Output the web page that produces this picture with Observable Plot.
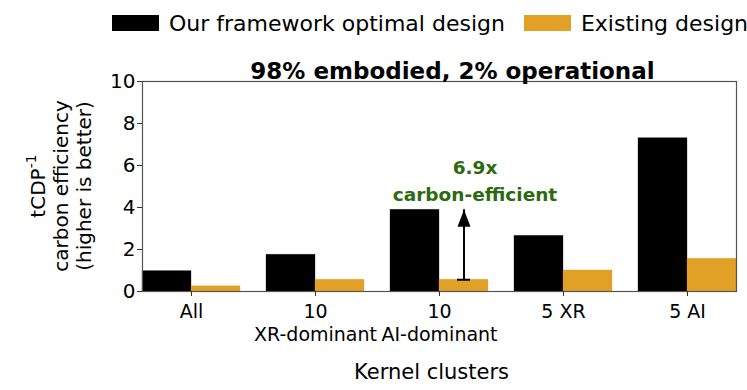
<!DOCTYPE html>
<html>
<head>
<meta charset="utf-8">
<script src="https://cdn.jsdelivr.net/npm/d3@7"></script>
<script src="https://cdn.jsdelivr.net/npm/@observablehq/plot@0.6"></script>
<style>
  html, body { margin: 0; padding: 0; background: #fff; }
  body { width: 747px; height: 390px; position: relative; overflow: hidden; font-family: "DejaVu Sans", sans-serif; }
  #legend { position: absolute; top: 0; left: 112px; height: 46px; display: flex; align-items: center; font-size: 22px; color: #000; white-space: nowrap; }
  #legend .item { display: flex; align-items: center; margin-right: 19px; }
  #legend .sw { width: 47px; height: 16px; margin-right: 10px; }
  #chart { position: absolute; top: 42px; left: 0; }
</style>
</head>
<body>
<div id="legend"></div>
<div id="chart"></div>
<script>
// ---- data ----
const categories = ["All", "10 XR", "10 AI", "5 XR", "5 AI"];
const tickLabels = ["All", "10\nXR-dominant", "10\nAI-dominant", "5 XR", "5 AI"];
const seriesNames = ["Our framework optimal design", "Existing design"];
const seriesColors = ["#000000", "#E1A026"];
const oursValues = [0.97, 1.75, 3.89, 2.65, 7.30];
const existingValues = [0.25, 0.56, 0.56, 1.00, 1.56];
const yTicks = [0, 2, 4, 6, 8, 10];
const titleText = "98% embodied, 2% operational";
const xLabelText = "Kernel clusters";
const annotationText = "6.9x\ncarbon-efficient";
const annotationCategory = "10 AI";
const annotationColor = "#2B6A0E";

const data = categories.flatMap((c, i) => [
  {cat: c, series: seriesNames[0], value: oursValues[i]},
  {cat: c, series: seriesNames[1], value: existingValues[i]}
]);
const ai = categories.indexOf(annotationCategory);
const arrowData = [{cat: annotationCategory, series: seriesNames[1], lo: existingValues[ai], hi: oursValues[ai]}];
const labelOf = new Map(categories.map((c, i) => [c, tickLabels[i]]));

// ---- legend ----
const legend = document.getElementById("legend");
seriesNames.forEach((s, i) => {
  const it = document.createElement("div");
  it.className = "item";
  const sw = document.createElement("div");
  sw.className = "sw";
  sw.style.background = seriesColors[i];
  const tx = document.createElement("span");
  tx.textContent = s;
  it.appendChild(sw); it.appendChild(tx);
  legend.appendChild(it);
});

// ---- chart ----
const chart = Plot.plot({
  width: 747,
  height: 348,
  marginTop: 39,
  marginBottom: 99,
  marginLeft: 142,
  marginRight: 11,
  style: {fontFamily: "DejaVu Sans", fontSize: "20px", color: "#000", background: "transparent"},
  fx: {domain: categories, paddingInner: 0.21, paddingOuter: 0, label: null},
  x: {domain: seriesNames, paddingInner: 0, paddingOuter: 0, axis: null},
  y: {domain: [0, 10], label: null},
  color: {domain: seriesNames, range: seriesColors},
  marks: [
    Plot.barY(data, {fx: "cat", x: "series", y: "value", fill: "series", stroke: "series", strokeOpacity: 0.35, strokeWidth: 0.8}),
    Plot.frame({stroke: "#555", strokeWidth: 1.2, facet: "super"}),
    Plot.axisY({ticks: yTicks, tickSize: 5, tickPadding: 2, fontSize: 20, label: null, stroke: "#333"}),
    Plot.axisFx({anchor: "bottom", tickSize: 5, tickPadding: 5, fontSize: 19, lineHeight: 1.22, label: null, tickFormat: d => labelOf.get(d), stroke: "#333"}),
    // arrow: shaft, base cap and filled head
    Plot.ruleX(arrowData, {fx: "cat", x: "series", y1: "lo", y2: "hi", stroke: "#000", strokeWidth: 2}),
    Plot.tickY(arrowData, {fx: "cat", x: "series", y: "lo", stroke: "#000", strokeWidth: 2, insetLeft: 18, insetRight: 18}),
    Plot.vector(arrowData, {fx: "cat", x: "series", y: "hi", length: 17, r: 6.5, shape: "spike", anchor: "end", rotate: 0, fill: "#000", stroke: "none"}),
    Plot.text(arrowData, {fx: "cat", x: "series", y: "hi", text: () => annotationText, lineAnchor: "bottom", lineHeight: 1.44, dy: -9, dx: 11, fill: annotationColor, fontWeight: "bold", fontSize: 18.5}),
    Plot.text([titleText], {frameAnchor: "top", dy: -19, dx: 13, fontWeight: "bold", fontSize: 23, fill: "#000", facet: "super"}),
    Plot.text([xLabelText], {frameAnchor: "bottom", dy: 87, dx: -8, fontSize: 21, fill: "#000", facet: "super"})
  ]
});
document.getElementById("chart").appendChild(chart);

// ---- y axis label (three rotated lines, first with superscript) ----
const svgEl = chart.tagName.toLowerCase() === "svg" ? chart : chart.querySelector("svg");
const ys = chart.scale("y");
const yMid = (ys.apply(0) + ys.apply(10)) / 2;
const svg = d3.select(svgEl);
const g = svg.append("g").attr("font-family", "DejaVu Sans").attr("font-size", 20).attr("fill", "#000").attr("text-anchor", "middle");
const t1 = g.append("text").attr("transform", `translate(45,${yMid}) rotate(-90)`);
t1.append("tspan").text("tCDP");
t1.append("tspan").attr("dy", -9).attr("font-size", 14).text("-1");
g.append("text").attr("transform", `translate(68,${yMid}) rotate(-90)`).text("carbon efficiency");
g.append("text").attr("transform", `translate(91,${yMid}) rotate(-90)`).text("(higher is better)");
</script>
</body>
</html>
